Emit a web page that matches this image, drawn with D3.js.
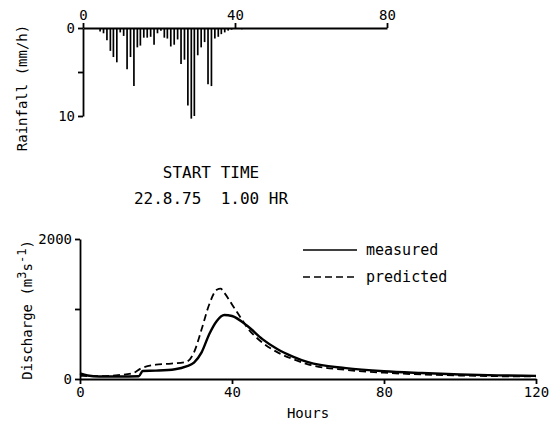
<!DOCTYPE html>
<html>
<head>
<meta charset="utf-8">
<script src="https://cdn.jsdelivr.net/npm/d3@7"></script>
<style>
  body { margin: 0; background: #fff; }
  svg { display: block; }
  text { font-family: "DejaVu Sans Mono", monospace; fill: #000; }
  .axis path, .axis line { stroke: #000; stroke-width: 1.8; }
  .axis text { font-size: 14px; }
</style>
</head>
<body>
<script>
// rainfall (mm/h) — time of each bar in hours from start
var rainHours = [4.5, 5.4, 6.3, 7.2, 8.0, 8.9, 9.8, 10.7, 11.6, 12.5,
                 13.4, 14.3, 15.1, 16.0, 16.9, 17.8, 18.7, 19.6, 20.5, 21.4,
                 22.2, 23.1, 24.0, 24.9, 25.8, 26.7, 27.6, 28.5, 29.3, 30.2,
                 31.1, 32.0, 32.9, 33.8, 34.7, 35.6, 36.4, 37.3, 38.2, 39.1, 41.8];
var rainValues = [0.4, 0.6, 1.4, 2.6, 3.3, 3.9, 0.5, 0.9, 4.7, 3.3,
                  6.6, 2.2, 2.0, 1.1, 1.1, 1.0, 1.9, 0.6, 0.3, 1.1,
                  1.2, 2.1, 1.9, 1.3, 4.1, 3.6, 8.8, 10.3, 10.0, 3.1,
                  2.2, 1.6, 6.4, 6.6, 1.2, 1.0, 0.7, 0.5, 0.3, 0.2, 0.15];

// discharge (m3/s)
var measuredHours = [0, 2, 5, 10, 15.5, 16.5, 20, 25, 28, 30, 32, 34, 36, 38, 40, 44, 48, 52, 56, 60, 70, 80, 90, 100, 110, 120];
var measuredQ     = [80, 50, 35, 35, 40, 115, 120, 140, 180, 235, 380, 640, 830, 915, 900, 760, 570, 425, 320, 240, 155, 110, 85, 65, 52, 45];
var predictedHours = [0, 5, 10, 14, 16, 20, 24, 28, 30, 32, 34, 36, 37, 38, 40, 42, 44, 48, 52, 56, 60, 70, 80, 90, 100, 110, 120];
var predictedQ     = [45, 40, 55, 85, 150, 205, 220, 245, 380, 710, 1065, 1275, 1290, 1230, 1065, 900, 735, 520, 380, 285, 210, 130, 90, 65, 50, 40, 38];

var rainTicks = [0, 40, 80];
var rainYTicks = [0, 5, 10];
var hourTicks = [0, 40, 80, 120];
var qTicks = [0, 1000, 2000];

var width = 549, height = 429;
var svg = d3.select("body").append("svg")
    .attr("width", width)
    .attr("height", height);

// ---- rainfall hyetograph (hanging bars)
var xR = d3.scaleLinear().domain([0, 80]).range([83, 387]);
var yR = d3.scaleLinear().domain([0, 10]).range([28, 116]);

svg.append("g").attr("class", "rain")
  .selectAll("line")
  .data(rainHours)
  .enter().append("line")
    .attr("x1", function(d) { return xR(d); })
    .attr("x2", function(d) { return xR(d); })
    .attr("y1", yR(0))
    .attr("y2", function(d, i) { return yR(rainValues[i]); })
    .attr("stroke", "#000")
    .attr("stroke-width", 1.7);

svg.append("g").attr("class", "axis")
    .attr("transform", "translate(0," + yR(0) + ")")
    .call(d3.axisTop(xR).tickValues(rainTicks).tickSize(5).tickSizeOuter(0));
svg.append("g").attr("class", "axis")
    .attr("transform", "translate(" + xR(0) + ",0)")
    .call(d3.axisLeft(yR).tickValues(rainYTicks).tickSize(5).tickSizeOuter(0)
      .tickFormat(function(d) { return d == 5 ? "" : d; }));

svg.append("text")
    .attr("transform", "translate(27,88) rotate(-90)")
    .attr("text-anchor", "middle")
    .attr("font-size", 14)
    .text("Rainfall (mm/h)");

svg.append("text")
    .attr("x", 211).attr("y", 178)
    .attr("text-anchor", "middle")
    .attr("font-size", 16)
    .text("START TIME");
svg.append("text")
    .attr("x", 211).attr("y", 204)
    .attr("text-anchor", "middle")
    .attr("font-size", 16)
    .style("white-space", "pre")
    .text("22.8.75  1.00 HR");

// ---- discharge hydrograph
var x = d3.scaleLinear().domain([0, 120]).range([80, 536]);
var y = d3.scaleLinear().domain([0, 2000]).range([379, 239]);

var line = d3.line()
    .x(function(d) { return x(d[0]); })
    .y(function(d) { return y(d[1]); })
    .curve(d3.curveMonotoneX);

svg.append("path")
    .datum(d3.zip(predictedHours, predictedQ))
    .attr("d", line)
    .attr("fill", "none")
    .attr("stroke", "#000")
    .attr("stroke-width", 1.8)
    .attr("stroke-dasharray", "7,4");
svg.append("path")
    .datum(d3.zip(measuredHours, measuredQ))
    .attr("d", line)
    .attr("fill", "none")
    .attr("stroke", "#000")
    .attr("stroke-width", 2.4);

svg.append("g").attr("class", "axis")
    .attr("transform", "translate(0," + y(0) + ")")
    .call(d3.axisBottom(x).tickValues(hourTicks).tickSize(5).tickSizeOuter(0));
svg.append("g").attr("class", "axis")
    .attr("transform", "translate(" + x(0) + ",0)")
    .call(d3.axisLeft(y).tickValues(qTicks).tickSize(5).tickSizeOuter(0)
      .tickFormat(function(d) { return d == 1000 ? "" : d; }));

svg.append("text")
    .attr("x", 308).attr("y", 418)
    .attr("text-anchor", "middle")
    .attr("font-size", 14)
    .text("Hours");

var ylab = svg.append("text")
    .attr("transform", "translate(32,310) rotate(-90)")
    .attr("text-anchor", "middle")
    .attr("font-size", 14);
ylab.append("tspan").text("Discharge (m");
ylab.append("tspan").attr("dy", -6).attr("font-size", 12).text("3");
ylab.append("tspan").attr("dy", 6).text("s");
ylab.append("tspan").attr("dy", -6).attr("font-size", 12).text("-1");
ylab.append("tspan").attr("dy", 6).text(")");

// legend
var legend = [["measured", null], ["predicted", "7,4"]];
legend.forEach(function(l, i) {
  var ly = 250 + i * 27;
  svg.append("line")
      .attr("x1", 303).attr("x2", 357)
      .attr("y1", ly).attr("y2", ly)
      .attr("stroke", "#000")
      .attr("stroke-width", 1.6)
      .attr("stroke-dasharray", l[1]);
  svg.append("text")
      .attr("x", 366).attr("y", ly + 5)
      .attr("font-size", 15)
      .text(l[0]);
});
</script>
</body>
</html>
